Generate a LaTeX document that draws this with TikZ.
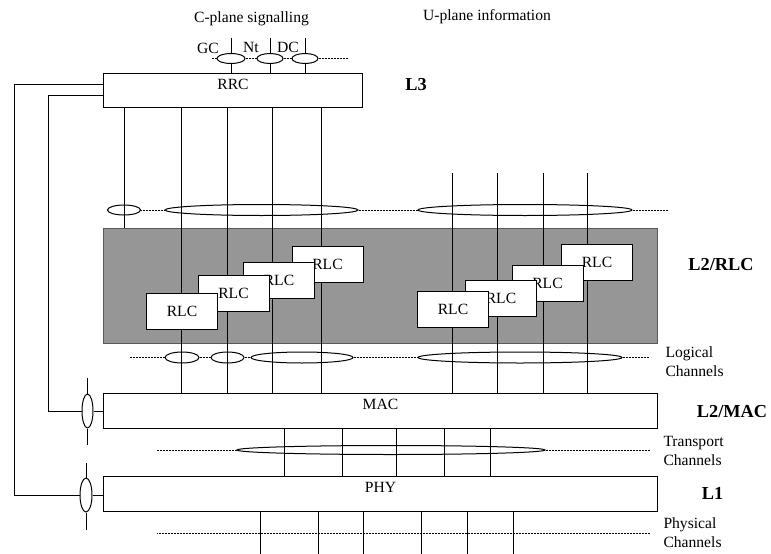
\documentclass[tikz,border=0pt]{standalone}
\usepackage{fontspec}
\setmainfont{Liberation Serif}
\usetikzlibrary{positioning}
\usetikzlibrary{shapes.geometric}
\tikzset{
  every node/.style={font=\fontsize{15.6}{19}\selectfont},
  layer/.style={shape=rectangle,draw,minimum width=554pt,minimum height=35pt,inner sep=0,anchor=north west},
  ttl/.style={anchor=north,yshift=-2pt},
  rlc/.style={shape=rectangle,draw,fill=white,minimum width=71pt,minimum height=36pt,inner sep=0},
  chan/.style={shape=ellipse,draw,inner sep=0},
  tag/.style={font=\fontsize{18.3}{22}\selectfont\bfseries},
  note/.style={anchor=west,align=left,inner sep=0},
  dots/.style={densely dotted,line width=0.5pt}
}
\begin{document}
\begin{tikzpicture}[x=1pt,y=-1pt,line width=1pt]
  \useasboundingbox (0,0) rectangle (771,554);
  \node[shape=rectangle,draw=black!65,fill=black!41,minimum width=554pt,minimum height=115pt,inner sep=0,anchor=north west] (area) at (103,228) {};
  \node[layer,minimum width=259pt,minimum height=34pt,label={[ttl]north:RRC}] (rrc) at (103,73) {};
  \node[layer,label={[ttl]north:MAC}] (mac) at (103,393) {};
  \node[layer,label={[ttl]north:PHY}] (phy) at (103,476) {};

  \node (cplane) at (251.5,19) {C-plane signalling};
  \node (uplane) at (487,17) {U-plane information};
  \node (gct) at (208,48) {GC};
  \node (ntt) at (251,47) {Nt};
  \node (dct) at (288,47) {DC};

  \node[chan,minimum width=28pt,minimum height=10pt] (gc) at (231,58.5) {};
  \node[chan,minimum width=26pt,minimum height=10pt] (nt) at (270,58.5) {};
  \node[chan,minimum width=26pt,minimum height=10pt] (dc) at (305,58.5) {};
  \node[chan,minimum width=33pt,minimum height=10pt] (sig) at (124,210) {};
  \node[chan,minimum width=193pt,minimum height=11pt] (lcu) at (261.5,210) {};
  \node[chan,minimum width=214pt,minimum height=11pt] (luu) at (525,210) {};
  \node[chan,minimum width=34pt,minimum height=11pt] (lc1) at (182,357.5) {};
  \node[chan,minimum width=33pt,minimum height=11pt] (lc2) at (227.5,357.5) {};
  \node[chan,minimum width=102pt,minimum height=11pt] (lc3) at (302,357.5) {};
  \node[chan,minimum width=204pt,minimum height=11pt] (lud) at (520,357.5) {};
  \node[chan,minimum width=308pt,minimum height=9pt] (trch) at (391,450) {};
  \node[chan,minimum width=11pt,minimum height=34pt] (macx) at (87.5,411) {};
  \node[chan,minimum width=12pt,minimum height=34pt] (phyx) at (86,495) {};

  \foreach \x [count=\i] in {181,227,272,321} \coordinate (c\i) at (\x,210);
  \foreach \x [count=\i] in {452,497,543,587} \coordinate (u\i) at (\x,173);
  \foreach \x [count=\i] in {284,342,396,444,490} \coordinate (t\i) at (\x,450);
  \foreach \x [count=\i] in {260,318,363,421,467,513} \coordinate (p\i) at (\x,554);

  \foreach \e in {gc,nt,dc} {
    \draw (\e.north) -- ++(0,-15);
    \draw (\e.south) -- (rrc.north -| \e);
  }
  \draw[dots] (gc.west) -- ++(-5,0) (gc.east) -- (nt.west) (nt.east) -- (dc.west) (dc.east) -- ++(30,0);

  \draw (rrc.south -| sig) -- (area.north -| sig);
  \foreach \i in {1,...,4} {
    \draw (rrc.south -| c\i) -- (mac.north -| c\i);
    \draw (u\i) -- (mac.north -| u\i);
  }
  \foreach \i in {1,...,5} \draw (mac.south -| t\i) -- (phy.north -| t\i);
  \foreach \i in {1,...,6} \draw (phy.south -| p\i) -- (p\i);

  \draw[dots] (sig.east) -- (lcu.west) (lcu.east) -- (luu.west) (luu.east) -- ++(35,0);
  \draw[dots] (lc1.west) -- ++(-35,0) (lc1.east) -- (lc2.west) (lc2.east) -- (lc3.west)
    (lc3.east) -- (lud.west) (lud.east) -- ++(26,0);
  \draw[dots] (trch.west) -- ++(-80,0) (trch.east) -- ++(105,0);
  \draw[dots] (phy.south west) ++(54,21) -- ++(493,0);

  \draw ([yshift=6pt]rrc.west) -- ++(-89,0) |- (phyx.west);
  \draw ([yshift=-5pt]rrc.west) -- ++(-55,0) |- (macx.west);
  \draw (macx.east) -- (mac.west |- macx.east);
  \draw (phyx.east) -- (phy.west |- phyx.east);
  \draw (macx.north) -- ++(0,-16) (macx.south) -- ++(0,16);
  \draw (phyx.north) -- ++(0,-15) (phyx.south) -- ++(0,17);

  \node[rlc] (r4) at (327.5,264.5) {RLC};
  \node[rlc] (r3) at (279,280.5) {RLC};
  \node[rlc] (r2) at (233.5,293) {RLC};
  \node[rlc] (r1) at (182,311.5) {RLC};
  \node[rlc] (q4) at (597,262) {RLC};
  \node[rlc] (q3) at (547.5,283.5) {RLC};
  \node[rlc] (q2) at (501,298.5) {RLC};
  \node[rlc] (q1) at (453,309.5) {RLC};

  \node[tag] (l3) at (416,85) {L3};
  \node[tag] (l2rlc) at (721,265) {L2/RLC};
  \node[tag] (l2mac) at (732,412) {L2/MAC};
  \node[tag] (l1) at (712.5,493) {L1};
  \node[note] (logch) at (665,362) {Logical\\Channels};
  \node[note] (trtxt) at (663,451) {Transport\\Channels};
  \node[note] (phtxt) at (663,533) {Physical\\Channels};
\end{tikzpicture}
\end{document}
